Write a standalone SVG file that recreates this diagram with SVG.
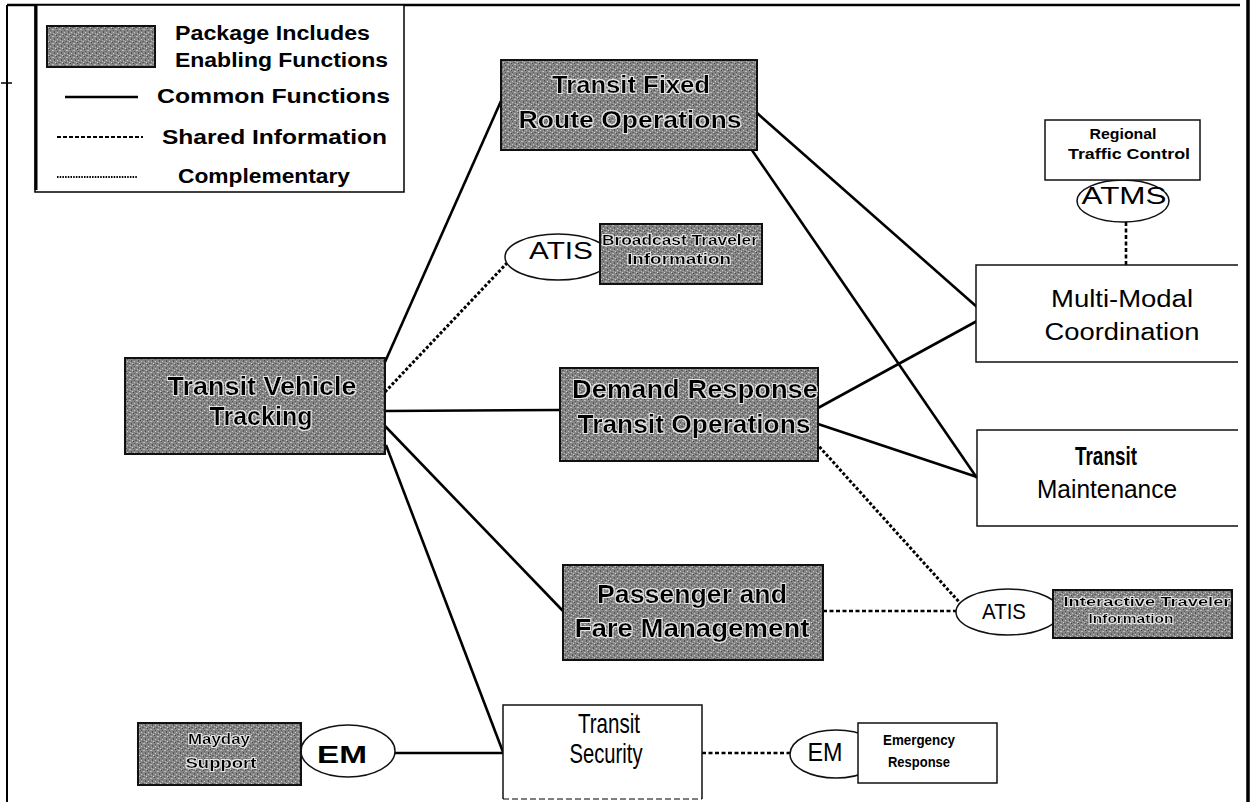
<svg xmlns="http://www.w3.org/2000/svg" width="1252" height="802" viewBox="0 0 1252 802">
  <style>
    .frame { fill: none; stroke: #000; }
    .dark { fill: url(#speckle); stroke: #111; stroke-width: 2; }
    .plain { fill: #fff; stroke: #111; stroke-width: 1.5; }
    .oval { fill: #fff; stroke: #111; stroke-width: 1.5; }
    .solid { stroke: #000; stroke-width: 2.6; fill: none; }
    .dash { stroke: #000; stroke-width: 2.6; fill: none; stroke-dasharray: 4 2.5; }
    .dot { stroke: #000; stroke-width: 3; fill: none; stroke-dasharray: 3 2; }
    text { font-family: "Liberation Sans", Arial, sans-serif; fill: #000; }
    .lbl { font-weight: bold; filter: url(#halo); }
    .b { font-weight: bold; }
    .c { text-anchor: middle; }
  </style>
  <defs>
    <!-- grainy mid-grey fill used by the "enabling function" packages -->
    <pattern id="speckle" width="7" height="7" patternUnits="userSpaceOnUse">
      <rect width="7" height="7" fill="#858585"/>
      <rect x="0" y="0" width="1" height="1" fill="#4a4a4a"/>
      <rect x="3" y="1" width="2" height="1" fill="#bdbdbd"/>
      <rect x="5" y="3" width="1" height="2" fill="#555"/>
      <rect x="1" y="4" width="1" height="1" fill="#c8c8c8"/>
      <rect x="2" y="6" width="2" height="1" fill="#606060"/>
      <rect x="6" y="6" width="1" height="1" fill="#d0d0d0"/>
      <rect x="4" y="5" width="1" height="1" fill="#b0b0b0"/>
      <rect x="1" y="2" width="1" height="1" fill="#5a5a5a"/>
    </pattern>
    <!-- light outline around labels on the grey packages -->
    <filter id="halo" x="-5%" y="-30%" width="110%" height="160%">
      <feMorphology in="SourceAlpha" operator="dilate" radius="1.2" result="d"/>
      <feFlood flood-color="#e6e6e6"/>
      <feComposite in2="d" operator="in" result="h"/>
      <feMerge><feMergeNode in="h"/><feMergeNode in="SourceGraphic"/></feMerge>
    </filter>
  </defs>

  <rect width="1252" height="802" fill="#fff"/>

  <!-- page frame -->
  <g id="frame">
    <path class="frame" d="M7 5 H1240" stroke-width="2.5"/>
    <path class="frame" d="M7 5 V802" stroke-width="2"/>
    <path class="frame" d="M1 83 H12" stroke-width="1.5"/>
    <path class="frame" d="M1248 0 V802" stroke-width="3.5"/>
  </g>

  <!-- legend -->
  <g id="legend">
    <rect x="35" y="5" width="369" height="187" fill="#fff" stroke="#000" stroke-width="1.5"/>
    <path d="M36 5 V190" stroke="#000" stroke-width="3"/>
    <rect x="47" y="26" width="108" height="41" class="dark"/>
    <text x="175" y="40" font-size="20" class="b" textLength="195" lengthAdjust="spacingAndGlyphs">Package Includes</text>
    <text x="175" y="67" font-size="20" class="b" textLength="213" lengthAdjust="spacingAndGlyphs">Enabling Functions</text>
    <path class="solid" d="M65 97 H138" stroke-width="3"/>
    <text x="157" y="103" font-size="21" class="b" textLength="233" lengthAdjust="spacingAndGlyphs">Common  Functions</text>
    <path d="M57 137 H143" stroke="#000" stroke-width="2" stroke-dasharray="4 2"/>
    <text x="162" y="144" font-size="21" class="b" textLength="225" lengthAdjust="spacingAndGlyphs">Shared  Information</text>
    <path d="M57 177 H138" stroke="#000" stroke-width="2" stroke-dasharray="1.5 1.2"/>
    <text x="178" y="183" font-size="21" class="b" textLength="172" lengthAdjust="spacingAndGlyphs">Complementary</text>
  </g>

  <!-- connectors -->
  <g id="connectors">
    <path class="solid" d="M385 362 L501 101"/>
    <path class="dot" d="M385 392 L507 263"/>
    <path class="solid" d="M385 411 L560 410"/>
    <path class="solid" d="M385 426 L563 611"/>
    <path class="solid" d="M386 445 L503 752"/>
    <path class="solid" d="M757 113 L977 307"/>
    <path class="solid" d="M745 140 L977 478"/>
    <path class="solid" d="M818 408 L977 321"/>
    <path class="solid" d="M818 424 L977 477"/>
    <path class="dot" d="M816 443 L960 603"/>
    <path class="dash" d="M823 611 L957 611"/>
    <path class="dash" d="M1126 222 V265"/>
    <path class="solid" d="M395 753 H503"/>
    <path class="dash" d="M702 753 H791"/>
  </g>

  <!-- ellipse tags -->
  <g id="atis-broadcast">
    <ellipse class="oval" cx="558" cy="257" rx="53" ry="23"/>
    <text x="561" y="259" font-size="23" class="c" textLength="64" lengthAdjust="spacingAndGlyphs">ATIS</text>
  </g>
  <g id="atis-interactive">
    <ellipse class="oval" cx="1008" cy="612" rx="52" ry="23"/>
    <text x="1004" y="619" font-size="22" class="c" textLength="44" lengthAdjust="spacingAndGlyphs">ATIS</text>
  </g>
  <g id="atms">
    <ellipse class="oval" cx="1123" cy="201" rx="46" ry="21"/>
    <text x="1124" y="204" font-size="23" class="c" textLength="85" lengthAdjust="spacingAndGlyphs">ATMS</text>
  </g>
  <g id="em-mayday">
    <ellipse class="oval" cx="348" cy="751" rx="47" ry="26"/>
    <text x="342" y="763" font-size="23" class="c b" textLength="50" lengthAdjust="spacingAndGlyphs">EM</text>
  </g>
  <g id="em-emergency">
    <ellipse class="oval" cx="836" cy="754" rx="46" ry="24"/>
    <text x="825" y="761" font-size="26" class="c" textLength="35" lengthAdjust="spacingAndGlyphs">EM</text>
  </g>

  <!-- packages with enabling functions -->
  <g id="transit-fixed-route">
    <rect class="dark" x="501" y="60" width="256" height="90"/>
    <text class="lbl c" x="631" y="93" font-size="23" textLength="158" lengthAdjust="spacingAndGlyphs">Transit Fixed</text>
    <text class="lbl c" x="630" y="128" font-size="23" textLength="223" lengthAdjust="spacingAndGlyphs">Route Operations</text>
  </g>
  <g id="broadcast-traveler-info">
    <rect class="dark" x="600" y="224" width="162" height="60"/>
    <text class="lbl c" x="680" y="245" font-size="14" textLength="156" lengthAdjust="spacingAndGlyphs">Broadcast Traveler</text>
    <text class="lbl c" x="679" y="264" font-size="14" textLength="104" lengthAdjust="spacingAndGlyphs">Information</text>
  </g>
  <g id="transit-vehicle-tracking">
    <rect class="dark" x="125" y="358" width="260" height="96"/>
    <text class="lbl c" x="262" y="395" font-size="26" textLength="189" lengthAdjust="spacingAndGlyphs">Transit Vehicle</text>
    <text class="lbl c" x="261" y="425" font-size="26" textLength="103" lengthAdjust="spacingAndGlyphs">Tracking</text>
  </g>
  <g id="demand-response">
    <rect class="dark" x="560" y="368" width="258" height="93"/>
    <text class="lbl c" x="695" y="398" font-size="25" textLength="246" lengthAdjust="spacingAndGlyphs">Demand Response</text>
    <text class="lbl c" x="694" y="433" font-size="25" textLength="233" lengthAdjust="spacingAndGlyphs">Transit Operations</text>
  </g>
  <g id="passenger-fare">
    <rect class="dark" x="563" y="565" width="260" height="95"/>
    <text class="lbl c" x="692" y="603" font-size="25" textLength="190" lengthAdjust="spacingAndGlyphs">Passenger and</text>
    <text class="lbl c" x="692" y="637" font-size="25" textLength="235" lengthAdjust="spacingAndGlyphs">Fare Management</text>
  </g>
  <g id="interactive-traveler-info">
    <rect class="dark" x="1053" y="590" width="179" height="48"/>
    <text class="lbl c" x="1147" y="606" font-size="13" textLength="167" lengthAdjust="spacingAndGlyphs">Interactive Traveler</text>
    <text class="lbl c" x="1131" y="623" font-size="13" textLength="85" lengthAdjust="spacingAndGlyphs">Information</text>
  </g>
  <g id="mayday-support">
    <rect class="dark" x="138" y="723" width="163" height="62"/>
    <text class="lbl c" x="219" y="744" font-size="15" textLength="62" lengthAdjust="spacingAndGlyphs">Mayday</text>
    <text class="lbl c" x="221" y="768" font-size="15" textLength="71" lengthAdjust="spacingAndGlyphs">Support</text>
  </g>

  <!-- other packages -->
  <g id="regional-traffic-control">
    <rect class="plain" x="1045" y="120" width="155" height="60"/>
    <text class="b c" x="1123" y="139" font-size="14" textLength="67" lengthAdjust="spacingAndGlyphs">Regional</text>
    <text class="b c" x="1129" y="159" font-size="14" textLength="122" lengthAdjust="spacingAndGlyphs">Traffic Control</text>
  </g>
  <g id="multi-modal-coordination">
    <path class="plain" d="M1238 265 H976 V362 H1238"/>
    <text class="c" x="1122" y="307" font-size="23" textLength="142" lengthAdjust="spacingAndGlyphs">Multi-Modal</text>
    <text class="c" x="1122" y="340" font-size="23" textLength="155" lengthAdjust="spacingAndGlyphs">Coordination</text>
  </g>
  <g id="transit-maintenance">
    <path class="plain" d="M1238 430 H977 V526 H1238"/>
    <text class="b c" x="1106" y="465" font-size="25" textLength="62" lengthAdjust="spacingAndGlyphs">Transit</text>
    <text class="c" x="1107" y="498" font-size="25" textLength="140" lengthAdjust="spacingAndGlyphs">Maintenance</text>
  </g>
  <g id="transit-security">
    <path class="plain" d="M503 799 V705 H702 V799"/>
    <path d="M503 799 H702" stroke="#000" stroke-width="1" stroke-dasharray="6 3"/>
    <text class="c" x="609" y="733" font-size="28" textLength="62" lengthAdjust="spacingAndGlyphs">Transit</text>
    <text class="c" x="606" y="763" font-size="28" textLength="73" lengthAdjust="spacingAndGlyphs">Security</text>
  </g>
  <g id="emergency-response">
    <rect class="plain" x="858" y="723" width="139" height="60"/>
    <text class="b c" x="919" y="745" font-size="15" textLength="72" lengthAdjust="spacingAndGlyphs">Emergency</text>
    <text class="b c" x="919" y="767" font-size="15" textLength="62" lengthAdjust="spacingAndGlyphs">Response</text>
  </g>
</svg>
